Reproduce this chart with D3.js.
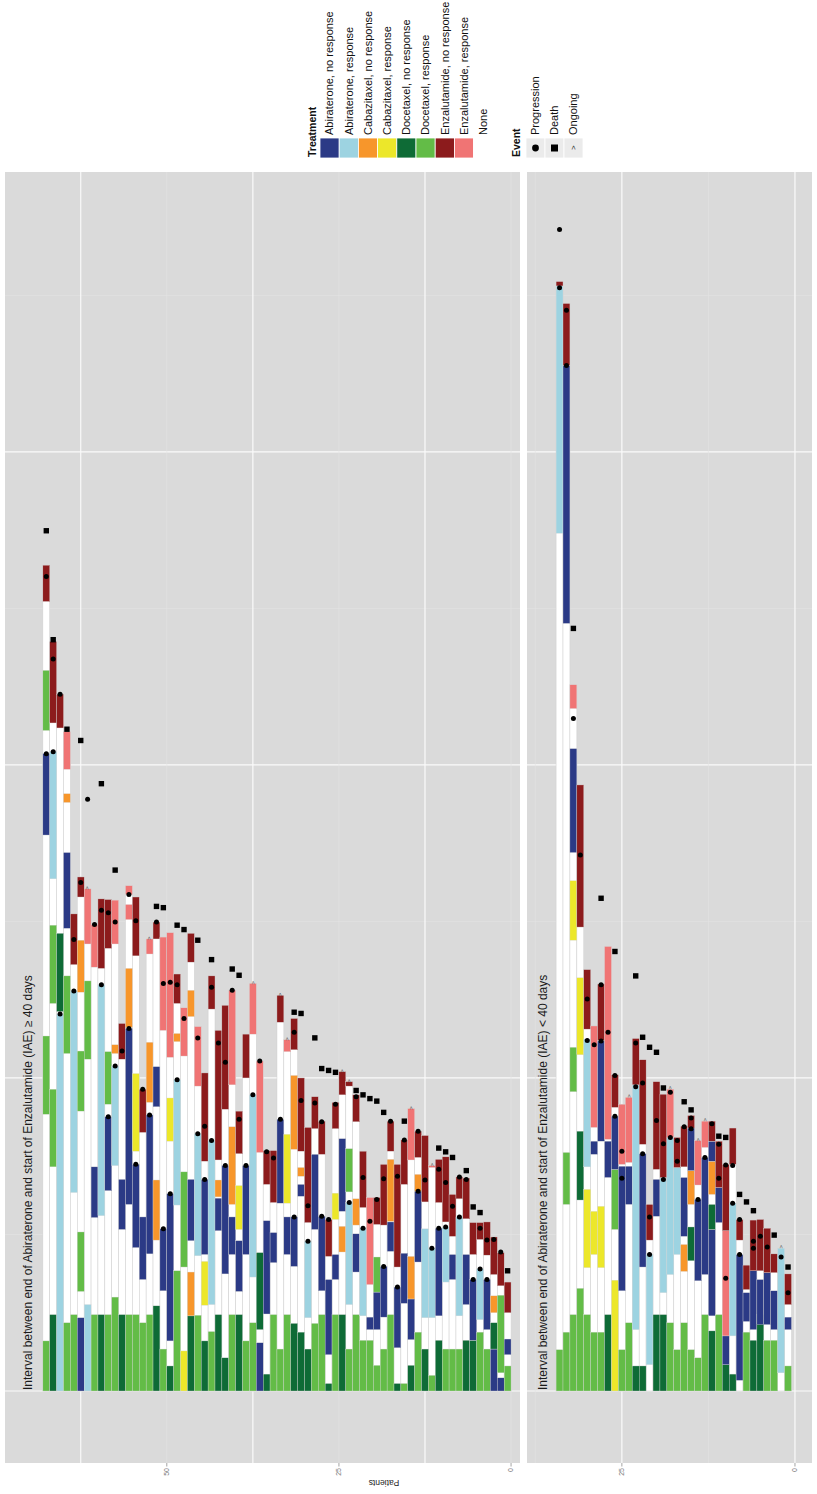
<!DOCTYPE html>
<html><head><meta charset="utf-8">
<script src="https://cdn.jsdelivr.net/npm/d3@7"></script>
<style>body{margin:0;background:#fff;} svg{display:block;font-family:"Liberation Sans",Arial,Helvetica,sans-serif;}</style>
</head><body><svg id="c" width="817" height="1494"></svg>
<script>
// ---------- categories ----------
const treatmentCodes  = ["AN","AR","CN","CR","DN","DR","EN","ER","NONE"];
const treatmentLabels = ["Abiraterone, no response","Abiraterone, response","Cabazitaxel, no response","Cabazitaxel, response","Docetaxel, no response","Docetaxel, response","Enzalutamide, no response","Enzalutamide, response","None"];
const treatmentColors = ["#2B3A86","#9DD3E1","#F7962B","#ECE72A","#0E6B36","#63BC47","#8C1B1C","#F07474","#FFFFFF"];
const eventCodes  = ["P","D","O"];
const eventLabels = ["Progression","Death","Ongoing"];
const panelTitles = ["Interval between end of Abiraterone and start of Enzalutamide (IAE) \u2265 40 days",
                     "Interval between end of Abiraterone and start of Enzalutamide (IAE) < 40 days"];
const patientTicksLeft  = [0,25,50];
const patientTicksRight = [0,25];
const timeMajor = [0,500,1000,1500];
const timeMinor = [250,750,1250,1750];

// ---------- IAE >= 40 days : [patient, treatment, startDay, endDay] ----------
const leftSegments = [
[68,"DR",0,80],[68,"DR",442,567],[68,"AN",888,1018],[68,"DR",1055,1151],[68,"EN",1261,1319],
[67,"DN",0,122],[67,"DR",358,482],[67,"DR",619,744],[67,"AR",818,1021],[67,"EN",1067,1197],
[66,"AR",0,602],[66,"DN",606,731],[66,"EN",1059,1113],
[65,"DR",0,109],[65,"DR",539,663],[65,"AN",739,860],[65,"CN",940,954],[65,"ER",993,1053],
[64,"DR",0,122],[64,"AR",317,639],[64,"EN",681,762],
[63,"AN",0,117],[63,"DR",159,254],[63,"DR",447,543],[63,"CN",637,720],[63,"EN",789,821],
[62,"AR",0,138],[62,"DR",530,655],[62,"ER",714,802],
[61,"DR",0,122],[61,"AN",277,358],[61,"ER",677,745],
[60,"DN",0,122],[60,"AR",280,649],[60,"EN",675,786],
[59,"DR",0,122],[59,"AN",320,438],[59,"DR",458,542],[59,"EN",707,785],
[58,"DR",0,150],[58,"AR",360,519],[58,"CN",539,553],[58,"ER",714,784],
[57,"DN",0,122],[57,"AN",258,338],[57,"EN",530,587],
[56,"DR",0,122],[56,"AN",298,579],[56,"CN",581,675],[56,"ER",753,777],[56,"ER",793,807],
[55,"DR",0,122],[55,"AN",229,362],[55,"CR",383,507],[55,"EN",695,789],
[54,"DR",0,109],[54,"AN",178,278],[54,"EN",413,482],
[53,"DR",0,122],[53,"AN",219,441],[53,"CN",461,557],[53,"ER",698,722],
[52,"DN",0,136],[52,"CN",241,337],[52,"AN",454,518],[52,"EN",722,749],
[51,"DR",0,67],[51,"AN",160,259],[51,"ER",576,725],
[50,"DN",0,40],[50,"AN",80,315],[50,"CR",399,468],[50,"ER",533,732],
[49,"DR",0,192],[49,"AR",297,497],[49,"CN",558,571],[49,"EN",619,666],
[48,"CR",0,64],[48,"DR",198,350],[48,"ER",535,612],
[47,"DN",0,120],[47,"CN",120,190],[47,"AN",240,338],[47,"CN",598,640],[47,"EN",685,731],
[46,"DR",0,121],[46,"AR",216,411],[46,"ER",487,582],
[45,"DN",0,80],[45,"CR",137,207],[45,"AN",218,338],[45,"EN",367,508],
[44,"DR",0,95],[44,"AR",138,400],[44,"EN",610,663],
[43,"DN",0,122],[43,"AN",256,308],[43,"CN",310,337],[43,"EN",369,576],
[42,"DN",0,53],[42,"AN",187,360],[42,"EN",450,616],
[41,"DR",0,122],[41,"AN",218,278],[41,"CN",298,422],[41,"ER",489,640],
[40,"DN",0,122],[40,"AN",159,240],[40,"CR",258,328],[40,"EN",379,447],
[39,"DR",0,80],[39,"AN",218,360],[39,"EN",500,570],
[38,"DR",0,109],[38,"AR",182,473],[38,"ER",570,651],
[37,"AN",0,77],[37,"DN",98,221],[37,"ER",381,527],
[36,"DN",0,27],[36,"AN",123,272],[36,"EN",330,384],
[35,"DR",0,122],[35,"AN",205,253],[35,"EN",301,384],
[34,"DR",0,67],[34,"AN",300,434],[34,"EN",589,632],
[33,"DR",0,122],[33,"AN",218,278],[33,"CR",300,410],[33,"ER",542,561],
[32,"DN",0,108],[32,"AN",199,278],[32,"CN",386,504],[32,"EN",545,595],
[31,"DN",0,94],[31,"AN",311,330],[31,"CN",343,357],[31,"EN",383,500],
[30,"DN",0,67],[30,"AR",117,239],[30,"EN",269,421],
[29,"DR",0,108],[29,"AN",258,378],[29,"EN",419,470],
[28,"DR",0,122],[28,"AN",160,279],[28,"EN",378,431],
[27,"DN",0,12],[27,"AN",58,178],[27,"EN",215,274],
[26,"DR",0,122],[26,"AN",178,218],[26,"CR",274,316],[26,"EN",419,461],
[25,"DN",0,122],[25,"CN",222,263],[25,"AN",287,403],[25,"EN",473,510],
[24,"DR",0,67],[24,"AR",138,301],[24,"DR",318,387],[24,"EN",487,494],
[23,"DR",0,122],[23,"AN",190,251],[23,"CN",265,307],[23,"EN",430,473],
[22,"DR",0,81],[22,"AR",120,260],[22,"EN",293,383],
[21,"DR",0,81],[21,"AN",98,118],[21,"ER",170,309],
[20,"DR",0,41],[20,"AN",98,158],[20,"DR",158,214],[20,"EN",266,309],
[19,"DR",0,67],[19,"AN",118,199],[19,"EN",265,362],
[18,"DR",0,122],[18,"AN",223,270],[18,"CN",271,370],[18,"EN",383,431],
[17,"DN",0,12],[17,"AN",69,166],[17,"EN",198,362],
[16,"DR",0,12],[16,"AN",140,220],[16,"EN",330,401],
[15,"DN",0,41],[15,"AN",82,147],[15,"CN",147,215],[15,"ER",369,451],
[14,"DR",0,94],[14,"AN",206,319],[14,"CN",319,346],[14,"EN",373,415],
[13,"DN",0,67],[13,"AR",117,259],[13,"EN",302,408],
[12,"DR",0,25],[12,"AR",117,228],[12,"ER",357,360],
[11,"DN",0,81],[11,"AN",120,260],[11,"EN",301,370],
[10,"DR",0,67],[10,"AR",174,262],[10,"EN",270,374],
[9,"DR",0,67],[9,"AN",178,218],[9,"EN",247,314],
[8,"DR",0,67],[8,"AR",120,278],[8,"EN",307,342],
[7,"DN",0,81],[7,"AN",138,218],[7,"EN",275,340],
[6,"DN",0,81],[6,"AN",81,178],[6,"EN",218,269],
[5,"DR",0,94],[5,"AR",114,195],[5,"EN",242,269],
[4,"DR",0,67],[4,"AN",98,178],[4,"EN",217,270],
[3,"AN",0,67],[3,"DN",67,109],[3,"CN",125,152],[3,"EN",186,246],
[2,"AN",0,21],[2,"DR",29,153],[2,"EN",168,221],
[1,"DR",0,40],[1,"AN",58,83],[1,"EN",125,174]
];
// [patient, event, day]
const leftEvents = [
[68,"P",1018],[68,"P",1301],[68,"D",1374],[67,"P",1021],[67,"P",1169],[67,"D",1200],
[66,"P",602],[66,"P",1113],[65,"D",1057],[64,"P",639],[64,"P",721],[63,"P",812],[63,"D",1039],
[62,"O",802],[62,"P",945],[61,"P",745],[60,"P",649],[60,"P",768],[60,"D",970],
[59,"P",438],[59,"P",764],[58,"P",519],[58,"P",749],[58,"D",832],[57,"P",543],
[56,"P",579],[56,"P",793],[55,"P",362],[55,"P",751],[54,"P",482],[53,"P",441],[53,"O",722],
[52,"P",749],[52,"D",774],[51,"P",259],[51,"P",651],[51,"D",772],[50,"P",315],[50,"P",653],
[49,"P",497],[49,"P",649],[49,"D",744],[48,"P",595],[48,"D",737],[46,"P",411],[46,"P",564],[46,"D",720],
[45,"P",338],[45,"P",423],[44,"P",400],[44,"P",645],[44,"D",689],[43,"P",556],[42,"P",360],[42,"P",525],
[41,"P",640],[41,"D",674],[40,"P",434],[40,"D",664],[39,"P",360],[38,"P",473],[38,"O",651],
[37,"P",527],[36,"P",382],[35,"P",372],[34,"P",434],[34,"O",632],[33,"O",561],
[32,"P",278],[32,"P",573],[32,"D",605],[31,"P",464],[31,"D",603],[30,"P",239],[30,"P",296],
[29,"P",460],[29,"D",564],[28,"P",279],[28,"P",430],[28,"D",515],[27,"P",274],[27,"D",512],
[26,"P",458],[26,"D",509],[25,"O",510],[24,"P",301],[24,"O",494],[23,"P",470],[23,"D",480],
[22,"P",260],[22,"P",341],[22,"D",473],[21,"P",271],[21,"D",467],[20,"P",306],[20,"D",463],
[19,"P",199],[19,"P",339],[19,"D",445],[18,"P",431],[17,"P",166],[17,"P",343],
[16,"P",401],[16,"D",431],[15,"O",451],[14,"P",319],[14,"P",415],[13,"P",337],
[12,"P",228],[12,"O",360],[11,"P",260],[11,"P",354],[11,"D",388],[10,"P",262],[10,"P",333],[10,"D",382],
[9,"P",295],[9,"D",373],[8,"P",278],[8,"P",342],[7,"P",338],[7,"D",352],[6,"P",178],[6,"D",294],
[5,"P",195],[5,"P",260],[5,"D",285],[4,"P",178],[4,"P",241],[3,"P",242],[2,"P",222],[1,"D",192]
];

// ---------- IAE < 40 days ----------
const rightSegments = [
[34,"DR",0,66],[34,"AR",1370,1765],[34,"EN",1765,1772],
[33,"DR",0,94],[33,"DR",298,381],[33,"AN",1226,1638],[33,"EN",1638,1737],
[32,"DR",0,122],[32,"DR",478,549],[32,"CR",720,815],[32,"AN",860,1026],[32,"ER",1090,1128],
[31,"DR",0,164],[31,"DN",305,415],[31,"CR",537,660],[31,"EN",741,968],
[30,"DR",0,122],[30,"CR",197,322],[30,"AR",358,562],[30,"EN",578,673],
[29,"DR",0,94],[29,"CR",218,287],[29,"AN",378,399],[29,"ER",421,583],
[28,"DR",0,94],[28,"CR",197,295],[28,"AN",399,559],[28,"EN",560,650],
[27,"DN",0,122],[27,"AN",341,399],[27,"ER",402,710],
[26,"CR",0,177],[26,"DR",258,354],[26,"AN",354,439],[26,"EN",453,505],
[25,"DR",0,66],[25,"AN",160,359],[25,"ER",362,458],
[24,"DR",0,109],[24,"AN",298,359],[24,"ER",365,469],
[23,"DN",0,40],[23,"AR",98,489],[23,"EN",489,563],
[22,"DN",0,40],[22,"AN",198,379],[22,"EN",394,529],
[21,"AR",42,218],[21,"EN",241,298],
[20,"DN",0,122],[20,"AN",279,338],[20,"EN",354,494],
[19,"DN",0,122],[19,"AR",157,341],[19,"EN",341,474],
[18,"DR",0,109],[18,"AR",186,405],[18,"ER",405,482],
[17,"DR",0,66],[17,"AR",218,357],[17,"EN",357,405],
[16,"DR",0,109],[16,"CN",191,234],[16,"AN",247,341],[16,"EN",358,423],
[15,"DR",0,66],[15,"DN",208,262],[15,"CN",298,352],[15,"AN",352,420],[15,"EN",420,440],
[14,"DR",0,53],[14,"AN",176,306],[14,"ER",329,400],
[13,"DR",0,122],[13,"AN",186,373],[13,"ER",389,431],
[12,"DN",0,96],[12,"AN",120,258],[12,"DN",258,298],[12,"CN",314,367],[12,"AN",367,399],[12,"EN",399,431],
[11,"DR",0,122],[11,"AN",269,325],[11,"EN",325,399],
[10,"DN",0,42],[10,"AN",42,88],[10,"ER",88,256],[10,"EN",256,362],
[9,"DN",0,27],[9,"AR",88,300],[9,"EN",362,420],
[8,"AN",17,218],[8,"EN",241,274],
[7,"DR",0,94],[7,"AN",111,157],[7,"EN",162,201],
[6,"DN",0,81],[6,"AN",98,192],[6,"EN",192,273],
[5,"DN",0,122],[5,"AN",106,178],[5,"EN",192,274],
[4,"DR",0,81],[4,"AN",106,189],[4,"EN",189,260],
[3,"DR",0,81],[3,"AN",98,160],[3,"EN",189,219],
[2,"AR",29,228],
[1,"DR",0,40],[1,"AN",98,118],[1,"EN",138,187]
];
const rightEvents = [
[34,"P",1762],[34,"P",1855],[33,"P",1638],[33,"P",1726],[32,"P",1074],[32,"D",1218],[31,"P",856],
[30,"P",560],[30,"P",626],[29,"P",553],[28,"P",559],[28,"P",649],[28,"D",787],[27,"P",573],
[26,"P",439],[26,"P",504],[26,"D",702],[25,"P",340],[25,"P",383],[24,"O",470],
[23,"P",486],[23,"P",556],[23,"D",663],[22,"P",379],[22,"P",492],[22,"D",565],
[21,"P",218],[21,"P",278],[21,"D",549],[20,"P",432],[20,"D",541],[19,"P",338],[19,"P",395],[19,"D",484],
[18,"P",405],[18,"P",477],[18,"O",483],[17,"P",367],[17,"P",400],[16,"P",422],[16,"D",462],
[15,"P",419],[15,"P",436],[15,"D",449],[14,"P",306],[14,"O",400],[13,"P",373],[13,"O",432],[12,"P",427],
[11,"P",340],[11,"P",394],[11,"D",407],[10,"P",180],[10,"P",361],[10,"D",405],[9,"P",300],[9,"P",360],
[8,"P",218],[8,"P",274],[8,"D",314],[7,"D",302],[6,"P",228],[6,"P",239],[6,"D",288],[5,"P",247],
[4,"P",230],[3,"D",249],[2,"P",214],[2,"O",229],[1,"P",157],[1,"D",198]
];

// ---------- drawing ----------
const svg = d3.select("#c");
svg.append("rect").attr("width",817).attr("height",1494).attr("fill","#fff");
const color = d3.scaleOrdinal().domain(treatmentCodes).range(treatmentColors);
const yT = d3.scaleLinear().domain([-115,1947]).range([1463,172]);
const xL = d3.scaleLinear().domain([-1.3,73.5]).range([520,5]);
const xR = d3.scaleLinear().domain([-2.46,38.7]).range([812,527]);
const panels = [
  {segs:leftSegments, evts:leftEvents, x:xL, title:panelTitles[0], ticks:patientTicksLeft, tx:32, off:1,
   strong:[12.5,37.5,62.5], faint:[0,25,50]},
  {segs:rightSegments, evts:rightEvents, x:xR, title:panelTitles[1], ticks:patientTicksRight, tx:547, off:0.5,
   strong:[0,25], faint:[12.5,37.5]}
];
const PT = 172, PB = 1463;

panels.forEach(P => {
  const g = svg.append("g");
  const [r1, r0] = P.x.range();
  const xMin = Math.min(r0,r1), xMax = Math.max(r0,r1);
  g.append("rect").attr("x",xMin).attr("y",PT).attr("width",xMax-xMin).attr("height",PB-PT).attr("fill","#DADADA");
  // grid
  timeMinor.forEach(t => g.append("line").attr("x1",xMin).attr("x2",xMax).attr("y1",yT(t)).attr("y2",yT(t)).attr("stroke","#E4E4E4").attr("stroke-width",0.6));
  timeMajor.forEach(t => g.append("line").attr("x1",xMin).attr("x2",xMax).attr("y1",yT(t)).attr("y2",yT(t)).attr("stroke","#FAFAFA").attr("stroke-width",1.2));
  P.faint.forEach(t => g.append("line").attr("x1",P.x(t)).attr("x2",P.x(t)).attr("y1",PT).attr("y2",PB).attr("stroke","#E4E4E4").attr("stroke-width",0.6));
  P.strong.forEach(t => g.append("line").attr("x1",P.x(t)).attr("x2",P.x(t)).attr("y1",PT).attr("y2",PB).attr("stroke","#FAFAFA").attr("stroke-width",1.2));
  const bx0 = p => P.x(p - P.off + 1), bx1 = p => P.x(p - P.off);
  // white base bars (None)
  const totals = d3.rollups(P.segs, v => d3.max(v, d => d[3]), d => d[0]);
  g.selectAll("rect.base").data(totals).join("rect").attr("class","base")
    .attr("x", d => bx0(d[0])).attr("width", d => bx1(d[0])-bx0(d[0]))
    .attr("y", d => yT(d[1])).attr("height", d => yT(0)-yT(d[1]))
    .attr("fill","#FFFFFF").attr("stroke","#CFCFCF").attr("stroke-width",0.5);
  g.selectAll("rect.seg").data(P.segs).join("rect").attr("class","seg")
    .attr("x", d => bx0(d[0])).attr("width", d => bx1(d[0])-bx0(d[0]))
    .attr("y", d => yT(d[3])).attr("height", d => yT(d[2])-yT(d[3]))
    .attr("fill", d => color(d[1])).attr("stroke","#D8D8D8").attr("stroke-width",0.35);
  // events
  P.evts.forEach(e => {
    const cx = (bx0(e[0])+bx1(e[0]))/2, cy = yT(e[2]);
    if (e[1]==="P") g.append("circle").attr("cx",cx).attr("cy",cy).attr("r",2.5).attr("fill","#000");
    else if (e[1]==="D") g.append("rect").attr("x",cx-2.7).attr("y",cy-2.7).attr("width",5.4).attr("height",5.4).attr("fill","#000");
    else g.append("text").attr("transform",`translate(${cx+1.8},${cy+1}) rotate(-90)`).attr("font-size",6).attr("fill","#555").text(">");
  });
  // facet title
  g.append("text").attr("transform",`translate(${P.tx},1390) rotate(-90)`).attr("font-size",12).attr("fill","#1a1a1a").text(P.title);
  // axis ticks
  P.ticks.forEach(t => {
    g.append("line").attr("x1",P.x(t)).attr("x2",P.x(t)).attr("y1",PB).attr("y2",PB+3.5).attr("stroke","#666").attr("stroke-width",0.6);
    g.append("text").attr("transform",`translate(${P.x(t)+2.4},${PB+5}) rotate(-90)`).attr("text-anchor","end").attr("font-size",7).attr("fill","#777").text(t);
  });
});
// axis title (upside-down)
svg.append("text").attr("transform","translate(384,1480) rotate(180)").attr("text-anchor","middle").attr("font-size",8.5).attr("fill","#222").text("Patients");

// legend: Treatment
const lg = svg.append("g");
lg.append("text").attr("transform","translate(316,157) rotate(-90)").attr("font-size",10.5).attr("font-weight","bold").attr("fill","#111").text("Treatment");
treatmentCodes.forEach((c,i) => {
  const x = 320 + i*19.2;
  lg.append("rect").attr("x",x).attr("y",138).attr("width",19.2).attr("height",20).attr("fill",color(c)).attr("stroke","#fff").attr("stroke-width",0.8);
  lg.append("text").attr("transform",`translate(${x+13.4},135) rotate(-90)`).attr("font-size",11).attr("fill","#111").text(treatmentLabels[i]);
});
// legend: Event
lg.append("text").attr("transform","translate(520,157) rotate(-90)").attr("font-size",10.5).attr("font-weight","bold").attr("fill","#111").text("Event");
eventCodes.forEach((c,i) => {
  const x = 526 + i*19, cx = x+9.5, cy = 148;
  lg.append("rect").attr("x",x).attr("y",138).attr("width",19).attr("height",20).attr("fill","#EBEBEB").attr("stroke","#fff").attr("stroke-width",0.8);
  if (c==="P") lg.append("circle").attr("cx",cx).attr("cy",cy).attr("r",3.4).attr("fill","#000");
  else if (c==="D") lg.append("rect").attr("x",cx-3.5).attr("y",cy-3.5).attr("width",7).attr("height",7).attr("fill","#000");
  else lg.append("text").attr("transform",`translate(${cx+2.5},${cy+2}) rotate(-90)`).attr("font-size",8).attr("fill","#222").text(">");
  lg.append("text").attr("transform",`translate(${x+13.4},135) rotate(-90)`).attr("font-size",11).attr("fill","#111").text(eventLabels[i]);
});
</script></body></html>
